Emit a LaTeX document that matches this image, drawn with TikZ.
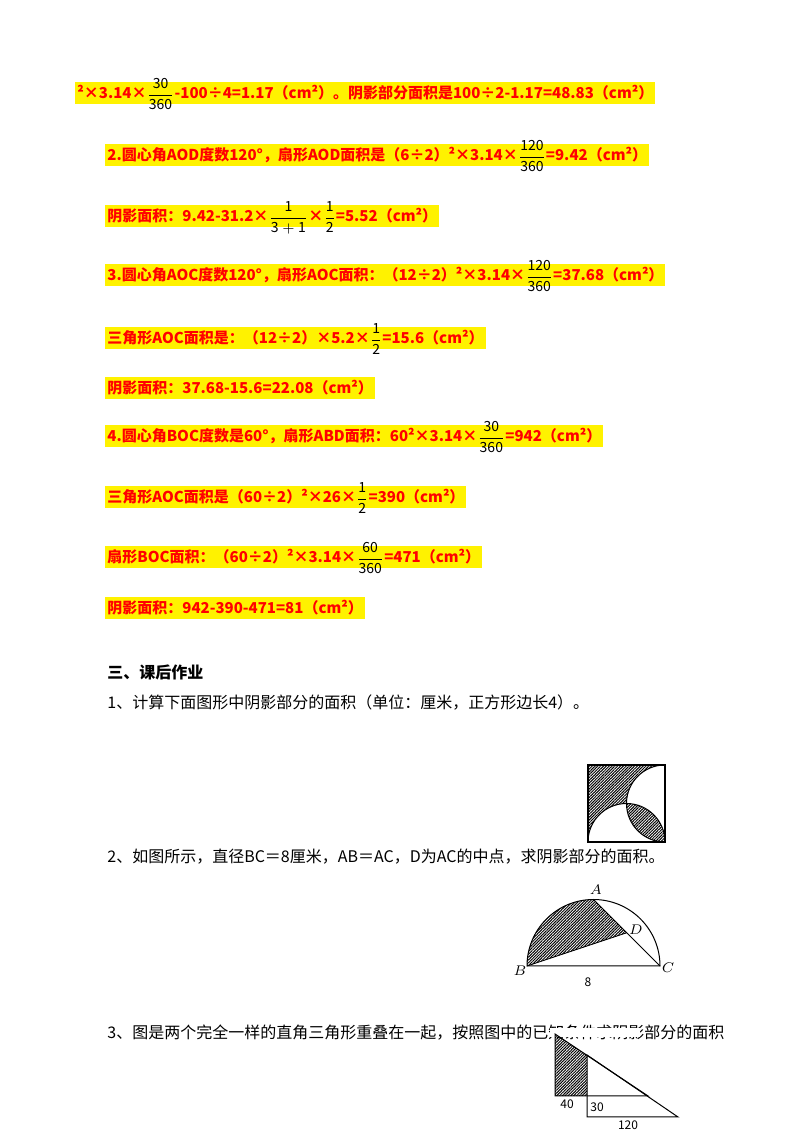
\documentclass[tikz,border=0pt]{standalone}
\usepackage{amsmath}
\usepackage{fontspec}
\setmainfont{Noto Sans CJK SC}
\usetikzlibrary{patterns.meta}
\newcommand{\fr}[2]{{\color{black}\smash{\fontsize{7}{8}\selectfont$\genfrac{}{}{0.4pt}{0}{\mathrm{#1}}{\mathrm{#2}}$}}}
\begin{document}
\begin{tikzpicture}[x=0.5pt,y=0.5pt,
  hl/.style={anchor=west,fill=yellow,text=red,inner sep=1pt,text height=7.5pt,text depth=1.8pt,font=\fontsize{7.5}{9}\selectfont\bfseries},
  tx/.style={anchor=west,inner sep=0pt,font=\fontsize{8}{9}\selectfont},
  sh/.style={pattern={Lines[angle=45,distance=1pt,line width=0.5pt]},pattern color=black},
  lbl/.style={inner sep=0pt,font=\fontsize{6}{7}\selectfont},
  ilbl/.style={inner sep=0pt,font=\fontsize{7}{8}\selectfont}]
\useasboundingbox (0,0) rectangle (800,1132);
\node[hl] (l1) at (75,1039) {²×3.14×\fr{30}{360}-100÷4=1.17（cm²）。阴影部分面积是100÷2-1.17=48.83（cm²）};
\node[hl] (l2) at (105,977) {2.圆心角AOD度数120°，扇形AOD面积是（6÷2）²×3.14×\fr{120}{360}=9.42（cm²）};
\node[hl] (l3) at (105,916) {阴影面积：9.42-31.2×\fr{1}{3+1}×\fr{1}{2}=5.52（cm²）};
\node[hl] (l4) at (105,857) {3.圆心角AOC度数120°，扇形AOC面积：（12÷2）²×3.14×\fr{120}{360}=37.68（cm²）};
\node[hl] (l5) at (105,794) {三角形AOC面积是：（12÷2）×5.2×\fr{1}{2}=15.6（cm²）};
\node[hl] (l6) at (105,744) {阴影面积：37.68-15.6=22.08（cm²）};
\node[hl] (l7) at (105,696) {4.圆心角BOC度数是60°，扇形ABD面积：60²×3.14×\fr{30}{360}=942（cm²）};
\node[hl] (l8) at (105,635) {三角形AOC面积是（60÷2）²×26×\fr{1}{2}=390（cm²）};
\node[hl] (l9) at (105,575) {扇形BOC面积：（60÷2）²×3.14×\fr{60}{360}=471（cm²）};
\node[hl] (l10) at (105,524) {阴影面积：942-390-471=81（cm²）};
\node[tx,font=\fontsize{8}{9}\selectfont\bfseries] (h) at (107,460) {三、课后作业};
\node[tx] (q1) at (107,429) {1、计算下面图形中阴影部分的面积（单位：厘米，正方形边长4）。};
\node[tx] (q2) at (107,275) {2、如图所示，直径BC＝8厘米，AB＝AC，D为AC的中点，求阴影部分的面积。};
\node[tx] (q3) at (107,99) {3、图是两个完全一样的直角三角形重叠在一起，按照图中的已知条件求阴影部分的面积};
% figure 1
\fill[sh] (588,290) -- (588,367) -- (665,367) arc[start angle=90,end angle=180,radius=38.5] arc[start angle=90,end angle=180,radius=38.5] -- cycle;
\fill[sh] (626.5,328.5) arc[start angle=180,end angle=270,radius=38.5] arc[start angle=0,end angle=90,radius=38.5] -- cycle;
\draw[line width=0.6pt] (588,290) rectangle (665,367);
\draw[line width=0.5pt] (588,290) arc[start angle=180,end angle=0,radius=38.5];
\draw[line width=0.5pt] (665,367) arc[start angle=90,end angle=270,radius=38.5];
% figure 2
\coordinate (B) at (527,166); \coordinate (C) at (660,166);
\coordinate (A) at (593.5,232.5); \coordinate (D) at (626.75,199.25);
\fill[sh] (B) arc[start angle=180,end angle=90,radius=66.5] -- (D) -- cycle;
\draw[line width=0.5pt] (B) arc[start angle=180,end angle=0,radius=66.5] -- cycle;
\draw[line width=0.4pt] (B) -- (D) -- (A) -- (C);
\node[ilbl] (la) at (596,242) {$A$};
\node[ilbl] (ld) at (636,202) {$D$};
\node[ilbl] (lb) at (520,161) {$B$};
\node[ilbl] (lc) at (668,164) {$C$};
\node[lbl] (l8n) at (588,150) {8};
% figure 3
\fill[white] (550,95) rectangle (640,104);
\fill[sh] (555,98) -- (555,36) -- (587,36) -- (587,77) -- cycle;
\draw[line width=0.5pt] (555,98) -- (555,36) -- (648,36) -- cycle;
\draw[line width=0.5pt] (587,77) -- (587,15) -- (678,15) -- cycle;
\node[lbl] (t40) at (567,28) {40};
\node[lbl] (t30) at (597,25) {30};
\node[lbl] (t120) at (628,7) {120};
\end{tikzpicture}
\end{document}
